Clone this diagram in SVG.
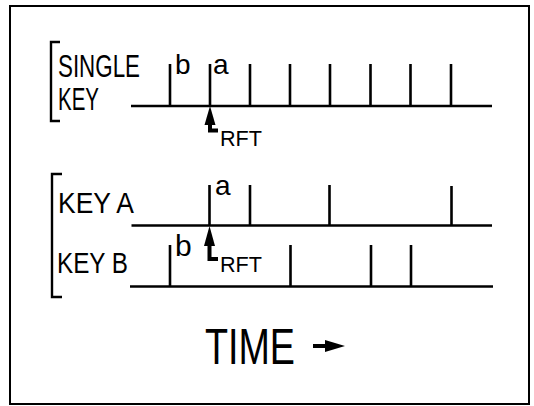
<svg xmlns="http://www.w3.org/2000/svg" width="534" height="406" viewBox="0 0 534 406">
<style>
.ln{stroke:#000;stroke-width:2.6;fill:none;stroke-linecap:butt}
.tk{stroke:#000;stroke-width:2.6;fill:none}
.br{stroke:#000;stroke-width:2.4;fill:none}
.t{font-family:"Liberation Sans",Arial,sans-serif;fill:#000}
</style>
<rect width="534" height="406" fill="#fff"/>
<rect id="frame" x="10" y="6" width="519" height="398" fill="none" stroke="#000" stroke-width="2"/>

<g id="single-key">
  <path class="br" d="M60,42 H51 V121 H60"/>
  <text class="t" x="58" y="77" font-size="31" textLength="82" lengthAdjust="spacingAndGlyphs">SINGLE</text>
  <text class="t" x="58" y="110" font-size="31" textLength="41" lengthAdjust="spacingAndGlyphs">KEY</text>
  <path class="ln" d="M131,106 H492"/>
  <path class="tk" d="M170,106 V64 M210,106 V64 M250,106 V64 M290,106 V64 M330,106 V64 M370.5,106 V64 M410.5,106 V64 M451,106 V64"/>
  <text class="t" x="175" y="74" font-size="28">b</text>
  <text class="t" x="213" y="74" font-size="28">a</text>
</g>

<g id="two-keys">
  <path class="br" d="M62,174 H52 V297 H62"/>
  <text class="t" x="58" y="213" font-size="30" textLength="76" lengthAdjust="spacingAndGlyphs">KEY A</text>
  <text class="t" x="57" y="273" font-size="30" textLength="71" lengthAdjust="spacingAndGlyphs">KEY B</text>
  <path class="ln" d="M131.5,225.5 H492"/>
  <path class="tk" d="M209.5,225.5 V185 M250,225.5 V185 M329.5,225.5 V185 M451.5,225.5 V186"/>
  <text class="t" x="215" y="195" font-size="28">a</text>
  <path class="ln" d="M130,286.5 H493"/>
  <path class="tk" d="M170,286.5 V245 M290.5,286.5 V245 M371,286.5 V245 M411,286.5 V245"/>
  <text class="t" x="175" y="256" font-size="30">b</text>
</g>

<g id="connectors">
  <g id="rft-1">
    <polygon points="210,106 204.5,125 215.5,125" fill="#000"/>
    <path d="M210,122 V130.5 H218" stroke="#000" stroke-width="4" fill="none"/>
    <text class="t" x="220" y="146" font-size="22" textLength="42" lengthAdjust="spacingAndGlyphs">RFT</text>
  </g>
  <g id="rft-2">
    <polygon points="209.5,226 204,246 215,246" fill="#000"/>
    <path d="M209.5,243 V259 H218" stroke="#000" stroke-width="4" fill="none"/>
    <text class="t" x="220" y="271.5" font-size="22" textLength="42" lengthAdjust="spacingAndGlyphs">RFT</text>
  </g>
</g>

<g id="time-label">
  <text class="t" x="205" y="364" font-size="50" textLength="90" lengthAdjust="spacingAndGlyphs">TIME</text>
  <path d="M313,346 H330" stroke="#000" stroke-width="4"/>
  <polygon points="325,340 345,346 325,352" fill="#000"/>
</g>
</svg>
